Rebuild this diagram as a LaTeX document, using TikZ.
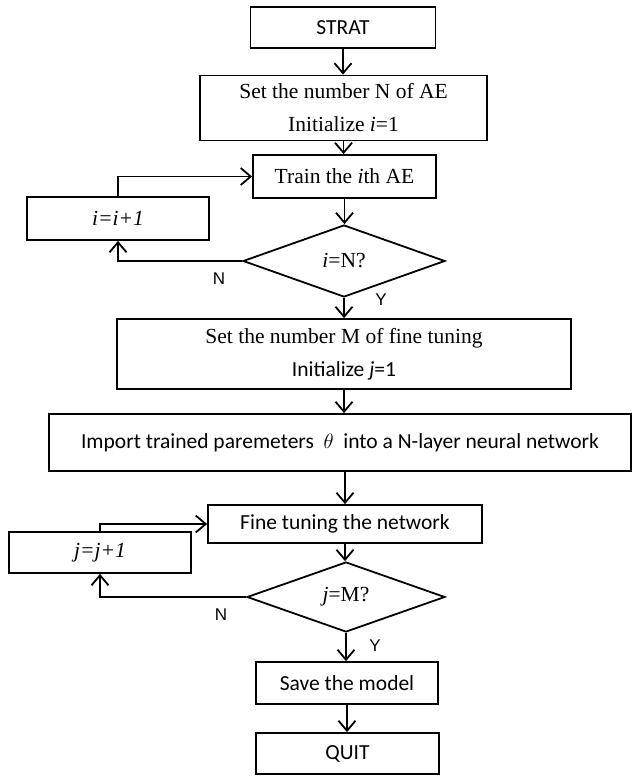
\documentclass[tikz,border=0pt]{standalone}
\usepackage{fontspec}
\setmainfont{Liberation Serif}
\newfontfamily\calfont{Carlito}
\newfontfamily\arlfont{Liberation Sans}
\usetikzlibrary{arrows.meta,shapes.geometric}
\begin{document}
\begin{tikzpicture}[x=1pt,y=1pt,
  box/.style={draw, line width=1.8pt, rectangle, inner sep=0pt, align=center, anchor=center},
  dec/.style={draw, line width=1.8pt, diamond, inner sep=0pt, anchor=center},
  ser/.style={font=\fontsize{21.5}{33}\selectfont},
  sans/.style={font=\calfont\fontsize{21.5}{33}\selectfont},
  lab/.style={font=\arlfont\fontsize{17}{20}\selectfont, inner sep=0pt},
  arr/.style={line width=1.8pt, -{Straight Barb[length=10pt,width=17pt,line width=1.8pt]}}
]
\useasboundingbox (0,0) rectangle (632,-776);
\node[box, sans, minimum width=185pt, minimum height=41pt] (start) at (343,-27.5) {STRAT};
\node[box, ser, minimum width=287pt, minimum height=65pt] (setN) at (343.5,-108) {Set the number N of AE\\Initialize \textit{i}=1};
\node[box, ser, minimum width=183pt, minimum height=43pt] (train) at (344.5,-176.5) {Train the \textit{i}th AE};
\node[box, ser, minimum width=182pt, minimum height=43pt] (inc1) at (118,-218.5) {\textit{i=i+1}};
\node[dec, ser, minimum width=202pt, minimum height=72pt] (dec1) at (344,-261) {\textit{i}=N?};
\node[box, ser, minimum width=454pt, minimum height=70pt] (setM) at (344,-354) {Set the number M of fine tuning\\{\calfont Initialize \textit{j}=1}};
\node[box, sans, minimum width=582pt, minimum height=57pt] (imp) at (340,-442.5) {Import trained paremeters\ \ $\theta$\ \ into a N-layer neural network};
\node[box, sans, minimum width=274pt, minimum height=38pt] (fine) at (345,-524) {Fine tuning the network};
\node[box, ser, minimum width=182pt, minimum height=41pt] (inc2) at (100,-552.5) {\textit{j=j+1}};
\node[dec, ser, minimum width=198pt, minimum height=70pt] (dec2) at (346,-597) {\textit{j}=M?};
\node[box, sans, minimum width=182pt, minimum height=42pt] (save) at (347,-683) {Save the model};
\node[box, sans, minimum width=183pt, minimum height=41pt] (quit) at (347.5,-753.5) {QUIT};
\node[lab] (n1) at (219,-279) {N};
\node[lab] (y1) at (381,-300) {Y};
\node[lab] (n2) at (221,-615) {N};
\node[lab] (y2) at (375,-646) {Y};
\draw[arr] (start.south) -- (start.south |- setN.north);
\draw[arr] (setN.south) -- (setN.south |- train.north);
\draw[arr] (train.south) -- (train.south |- dec1.north);
\draw[arr] (dec1.south) -- (dec1.south |- setM.north);
\draw[arr] (setM.south) -- (setM.south |- imp.north);
\draw[arr] (fine.north |- imp.south) -- (fine.north);
\draw[arr] (fine.south) -- (fine.south |- dec2.north);
\draw[arr] (dec2.south) -- (dec2.south |- save.north);
\draw[arr] (save.south) -- (save.south |- quit.north);
\draw[arr] (inc1.north) |- (train.west);
\draw[arr] (dec1.west) -| (inc1.south);
\draw[arr] (inc2.north) |- (fine.west);
\draw[arr] (dec2.west) -| (inc2.south);
\end{tikzpicture}
\end{document}
